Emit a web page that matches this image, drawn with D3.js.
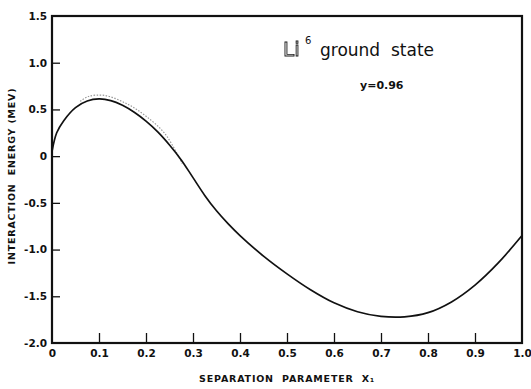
<!DOCTYPE html>
<html>
<head>
<meta charset="utf-8">
<script src="https://cdn.jsdelivr.net/npm/d3@7"></script>
<style>
  body { margin: 0; background: #fff; }
  svg { display: block; }
  .tick text { font-family: "DejaVu Sans", sans-serif; font-weight: bold; font-size: 10.5px; fill: #111; }
  .axis-title { font-family: "DejaVu Sans", sans-serif; font-weight: bold; font-size: 9.5px; fill: #111; letter-spacing: 0.8px; }
  .title-li { filter: grayscale(100%); }
</style>
</head>
<body>
<div id="chart"></div>
<script>
//////////////////////////// data /////////////////////////////////////////

// separation parameter X1
const sepX = [0, 0.01, 0.025, 0.05, 0.075, 0.10, 0.125, 0.15, 0.175, 0.20, 0.225,
  0.25, 0.275, 0.30, 0.325, 0.35, 0.375, 0.40, 0.45, 0.50, 0.55, 0.60, 0.65, 0.70,
  0.75, 0.80, 0.85, 0.90, 0.95, 1.00];
// interaction energy (MeV)
const energy = [0.05, 0.25, 0.38, 0.52, 0.59, 0.612, 0.595, 0.545, 0.47, 0.375, 0.26,
  0.12, -0.04, -0.23, -0.42, -0.585, -0.725, -0.85, -1.07, -1.26, -1.43, -1.57, -1.665, -1.715,
  -1.72, -1.675, -1.56, -1.38, -1.14, -0.85];

// faint dotted trace just above the curve
const faintX = [0.06, 0.077, 0.113, 0.162, 0.198, 0.240, 0.277];
const faintE = [0.57, 0.622, 0.633, 0.537, 0.419, 0.226, -0.095];

const xTicks = [0, 0.1, 0.2, 0.3, 0.4, 0.5, 0.6, 0.7, 0.8, 0.9, 1.0];
const xTickLabels = ["0", "0.1", "0.2", "0.3", "0.4", "0.5", "0.6", "0.7", "0.8", "0.9", "1.0"];
const yTicks = [1.5, 1.0, 0.5, 0, -0.5, -1.0, -1.5, -2.0];
const yTickLabels = ["1.5", "1.0", "0.5", "0", "-0.5", "-1.0", "-1.5", "-2.0"];

//////////////////////////// sizes ///////////////////////////////////

const dimensions = {
  width: 531,
  height: 389,
  margin: { top: 16, right: 9, bottom: 46, left: 52 }
};
dimensions.boundedWidth = dimensions.width - dimensions.margin.left - dimensions.margin.right;
dimensions.boundedHeight = dimensions.height - dimensions.margin.top - dimensions.margin.bottom;

const wrapper = d3.select("#chart").append("svg")
  .attr("width", dimensions.width)
  .attr("height", dimensions.height);

const bounds = wrapper.append("g")
  .attr("transform", `translate(${dimensions.margin.left},${dimensions.margin.top})`);

//////////////////////////// scales ///////////////////////////////////////

const xScale = d3.scaleLinear().domain([0, 1]).range([0, dimensions.boundedWidth]);
const yScale = d3.scaleLinear().domain([-2, 1.5]).range([dimensions.boundedHeight, 0]);

//////////////////////////// axes ///////////////////////////////////////

const xAxis = d3.axisBottom(xScale)
  .tickValues(xTicks)
  .tickFormat((d, i) => xTickLabels[i])
  .tickSize(-10)
  .tickPadding(7);

const yAxis = d3.axisLeft(yScale)
  .tickValues(yTicks)
  .tickFormat((d, i) => yTickLabels[i])
  .tickSize(-8)
  .tickPadding(5);

const xg = bounds.append("g")
  .attr("transform", `translate(0,${dimensions.boundedHeight})`)
  .call(xAxis);
const yg = bounds.append("g").call(yAxis);

[xg, yg].forEach(g => {
  g.select(".domain").remove();
  g.selectAll(".tick line").attr("stroke", "#111").attr("stroke-width", 1.3);
});
// no tick marks at the frame corners
xg.selectAll(".tick line").filter(d => d === 0 || d === 1).remove();
yg.selectAll(".tick line").filter(d => d === 1.5 || d === -2).remove();

// frame
bounds.append("rect")
  .attr("width", dimensions.boundedWidth)
  .attr("height", dimensions.boundedHeight)
  .attr("fill", "none")
  .attr("stroke", "#111")
  .attr("stroke-width", 2.2);

//////////////////////////// curves ///////////////////////////////////////

const line = d3.line()
  .x(d => xScale(d[0]))
  .y(d => yScale(d[1]))
  .curve(d3.curveCatmullRom.alpha(0.5));

bounds.append("path")
  .datum(d3.zip(faintX, faintE))
  .attr("d", line)
  .attr("fill", "none")
  .attr("stroke", "#999")
  .attr("stroke-width", 1.2)
  .attr("stroke-dasharray", "1.5,1.5")
  .attr("transform", "translate(0,-1.5)");

bounds.append("path")
  .datum(d3.zip(sepX, energy))
  .attr("d", line)
  .attr("fill", "none")
  .attr("stroke", "#111")
  .attr("stroke-width", 1.7);

//////////////////////////// labels ///////////////////////////////////////

wrapper.append("text")
  .attr("class", "axis-title")
  .attr("x", 287)
  .attr("y", 382)
  .attr("text-anchor", "middle")
  .attr("xml:space", "preserve")
  .text("SEPARATION  PARAMETER  X\u2081");

wrapper.append("text")
  .attr("class", "axis-title")
  .attr("transform", "translate(15,176) rotate(-90)")
  .attr("text-anchor", "middle")
  .attr("xml:space", "preserve")
  .text("INTERACTION  ENERGY (MEV)");

const title = wrapper.append("g");
title.append("text")
  .attr("class", "title-li")
  .attr("x", 283)
  .attr("y", 56)
  .attr("font-family", "DejaVu Sans, sans-serif")
  .attr("font-size", 20)
  .attr("fill", "#fff")
  .attr("stroke", "#111")
  .attr("stroke-width", 0.9)
  .text("Li");
title.append("text")
  .attr("x", 305)
  .attr("y", 44)
  .attr("font-family", "DejaVu Sans, sans-serif")
  .attr("font-size", 10)
  .attr("fill", "#111")
  .text("6");
title.append("text")
  .attr("x", 320)
  .attr("y", 56)
  .attr("font-family", "DejaVu Sans, sans-serif")
  .attr("font-size", 17)
  .attr("fill", "#111")
  .attr("xml:space", "preserve")
  .text("ground  state");

wrapper.append("text")
  .attr("x", 360)
  .attr("y", 89)
  .attr("font-family", "DejaVu Sans, sans-serif")
  .attr("font-size", 11)
  .attr("font-weight", "bold")
  .attr("fill", "#111")
  .text("y=0.96");
</script>
</body>
</html>
